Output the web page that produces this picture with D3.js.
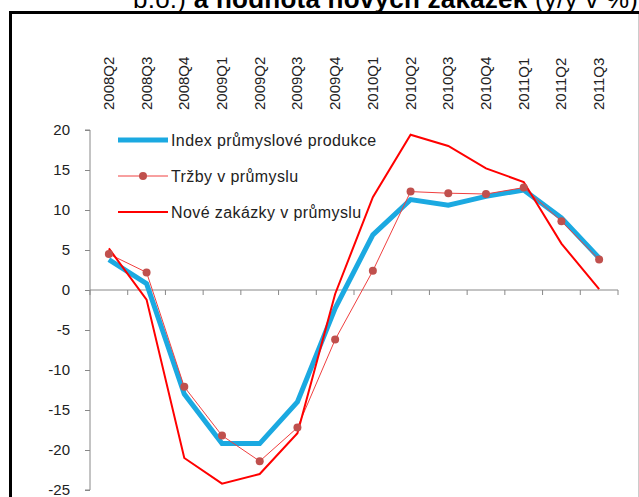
<!DOCTYPE html>
<html>
<head>
<meta charset="utf-8">
<script src="https://cdn.jsdelivr.net/npm/d3@7"></script>
<style>
  body { margin: 0; background: #fff; }
  svg { display: block; font-family: "Liberation Sans", Arial, sans-serif; }
</style>
</head>
<body>
<script>
var width = 639,
    height = 497;

// quarters and y/y changes in %
var quarters = ["2008Q2", "2008Q3", "2008Q4", "2009Q1", "2009Q2", "2009Q3", "2009Q4",
                "2010Q1", "2010Q2", "2010Q3", "2010Q4", "2011Q1", "2011Q2", "2011Q3"];
var indexProd = [3.8, 0.8, -13.0, -19.2, -19.2, -14.0, -2.3, 6.9, 11.3, 10.6, 11.7, 12.5, 9.0, 4.0];
var trzby = [4.5, 2.2, -12.1, -18.2, -21.4, -17.2, -6.2, 2.4, 12.3, 12.1, 12.0, 12.8, 8.6, 3.8];
var zakazky = [5.2, -1.2, -21.0, -24.2, -23.0, -17.9, -0.5, 11.6, 19.4, 18.0, 15.2, 13.5, 5.8, 0.1];
var yTicks = [20, 15, 10, 5, 0, -5, -10, -15, -20, -25];
var seriesNames = ["Index průmyslové produkce", "Tržby v průmyslu", "Nové zakázky v průmyslu"];

var svg = d3.select("body").append("svg")
    .attr("width", width)
    .attr("height", height);

// title, cut at the top of the picture like in the source
var title = svg.append("text")
    .attr("x", 133)
    .attr("y", 8)
    .attr("font-size", 26)
    .attr("textLength", 505)
    .attr("fill", "#000");
title.append("tspan").text("b.o.) ");
title.append("tspan").attr("font-weight", "bold").text("a hodnota nových zakázek");
title.append("tspan").text(" (y/y v %)");

// frame
svg.append("rect")
    .attr("x", 10.5)
    .attr("y", 12.5)
    .attr("width", 660)
    .attr("height", 520)
    .attr("fill", "none")
    .attr("stroke", "#000")
    .attr("stroke-width", 3);
svg.append("line")
    .attr("x1", 638.5).attr("x2", 638.5)
    .attr("y1", 14).attr("y2", height)
    .attr("stroke", "#ccc");

var x = d3.scaleBand()
    .domain(quarters)
    .range([90, 618]);

var y = d3.scaleLinear()
    .domain([-25, 20])
    .range([490, 130]);

var cx = function(d, i) { return x(quarters[i]) + x.bandwidth() / 2; };

// y axis
var yAxis = svg.append("g")
    .attr("transform", "translate(90,0)")
    .call(d3.axisLeft(y).tickValues(yTicks).tickSize(5).tickPadding(15).tickFormat(d3.format("d")));
yAxis.select(".domain").attr("stroke", "#888").attr("d", "M-5," + y(20) + "H0V" + y(-25) + "H-5");
yAxis.selectAll(".tick line").attr("stroke", "#888");
yAxis.selectAll(".tick text")
    .attr("font-size", 15)
    .attr("font-family", "Liberation Sans, Arial, sans-serif")
    .attr("fill", "#222")
    .text(function(d) { return d < 0 ? "-" + Math.abs(d) : d; });

// x axis at zero
var xAxis = svg.append("g")
    .attr("transform", "translate(0," + y(0) + ")");
xAxis.append("line")
    .attr("x1", 90).attr("x2", 618)
    .attr("stroke", "#888");
xAxis.selectAll(".xt")
    .data(quarters.concat(["end"]))
    .enter().append("line")
    .attr("x1", function(d, i) { return x.range()[0] + i * x.step(); })
    .attr("x2", function(d, i) { return x.range()[0] + i * x.step(); })
    .attr("y1", 0).attr("y2", 5)
    .attr("stroke", "#888");

// category labels at top, rotated
svg.selectAll(".cat")
    .data(quarters)
    .enter().append("text")
    .attr("class", "cat")
    .attr("transform", function(d) {
        return "translate(" + (x(d) + x.bandwidth() / 2 + 5) + ",110) rotate(-90)";
    })
    .attr("font-size", 15)
    .attr("fill", "#222")
    .text(function(d) { return d; });

var line = d3.line()
    .x(cx)
    .y(function(d) { return y(d); });

svg.append("path")
    .datum(indexProd)
    .attr("d", line)
    .attr("fill", "none")
    .attr("stroke", "#1BA9E1")
    .attr("stroke-width", 5);

svg.append("path")
    .datum(trzby)
    .attr("d", line)
    .attr("fill", "none")
    .attr("stroke", "#F04040")
    .attr("stroke-width", 1);

svg.append("path")
    .datum(zakazky)
    .attr("d", line)
    .attr("fill", "none")
    .attr("stroke", "#FF0000")
    .attr("stroke-width", 2);

svg.selectAll(".dot")
    .data(trzby)
    .enter().append("circle")
    .attr("cx", cx)
    .attr("cy", function(d) { return y(d); })
    .attr("r", 4)
    .attr("fill", "#C0504D");

// legend
var legend = svg.append("g");
var legStyles = [
    {stroke: "#1BA9E1", w: 5, dot: false},
    {stroke: "#F04040", w: 1, dot: true},
    {stroke: "#FF0000", w: 2, dot: false}
];
seriesNames.forEach(function(name, i) {
    var ly = 140 + i * 36;
    var s = legStyles[i];
    legend.append("line")
        .attr("x1", 118).attr("x2", 168)
        .attr("y1", ly).attr("y2", ly)
        .attr("stroke", s.stroke)
        .attr("stroke-width", s.w);
    if (s.dot) {
        legend.append("circle")
            .attr("cx", 143).attr("cy", ly).attr("r", 4)
            .attr("fill", "#C0504D");
    }
    legend.append("text")
        .attr("x", 171)
        .attr("y", ly + 6)
        .attr("font-size", 16)
        .attr("letter-spacing", 0.4)
        .attr("fill", "#222")
        .text(name);
});
</script>
</body>
</html>
